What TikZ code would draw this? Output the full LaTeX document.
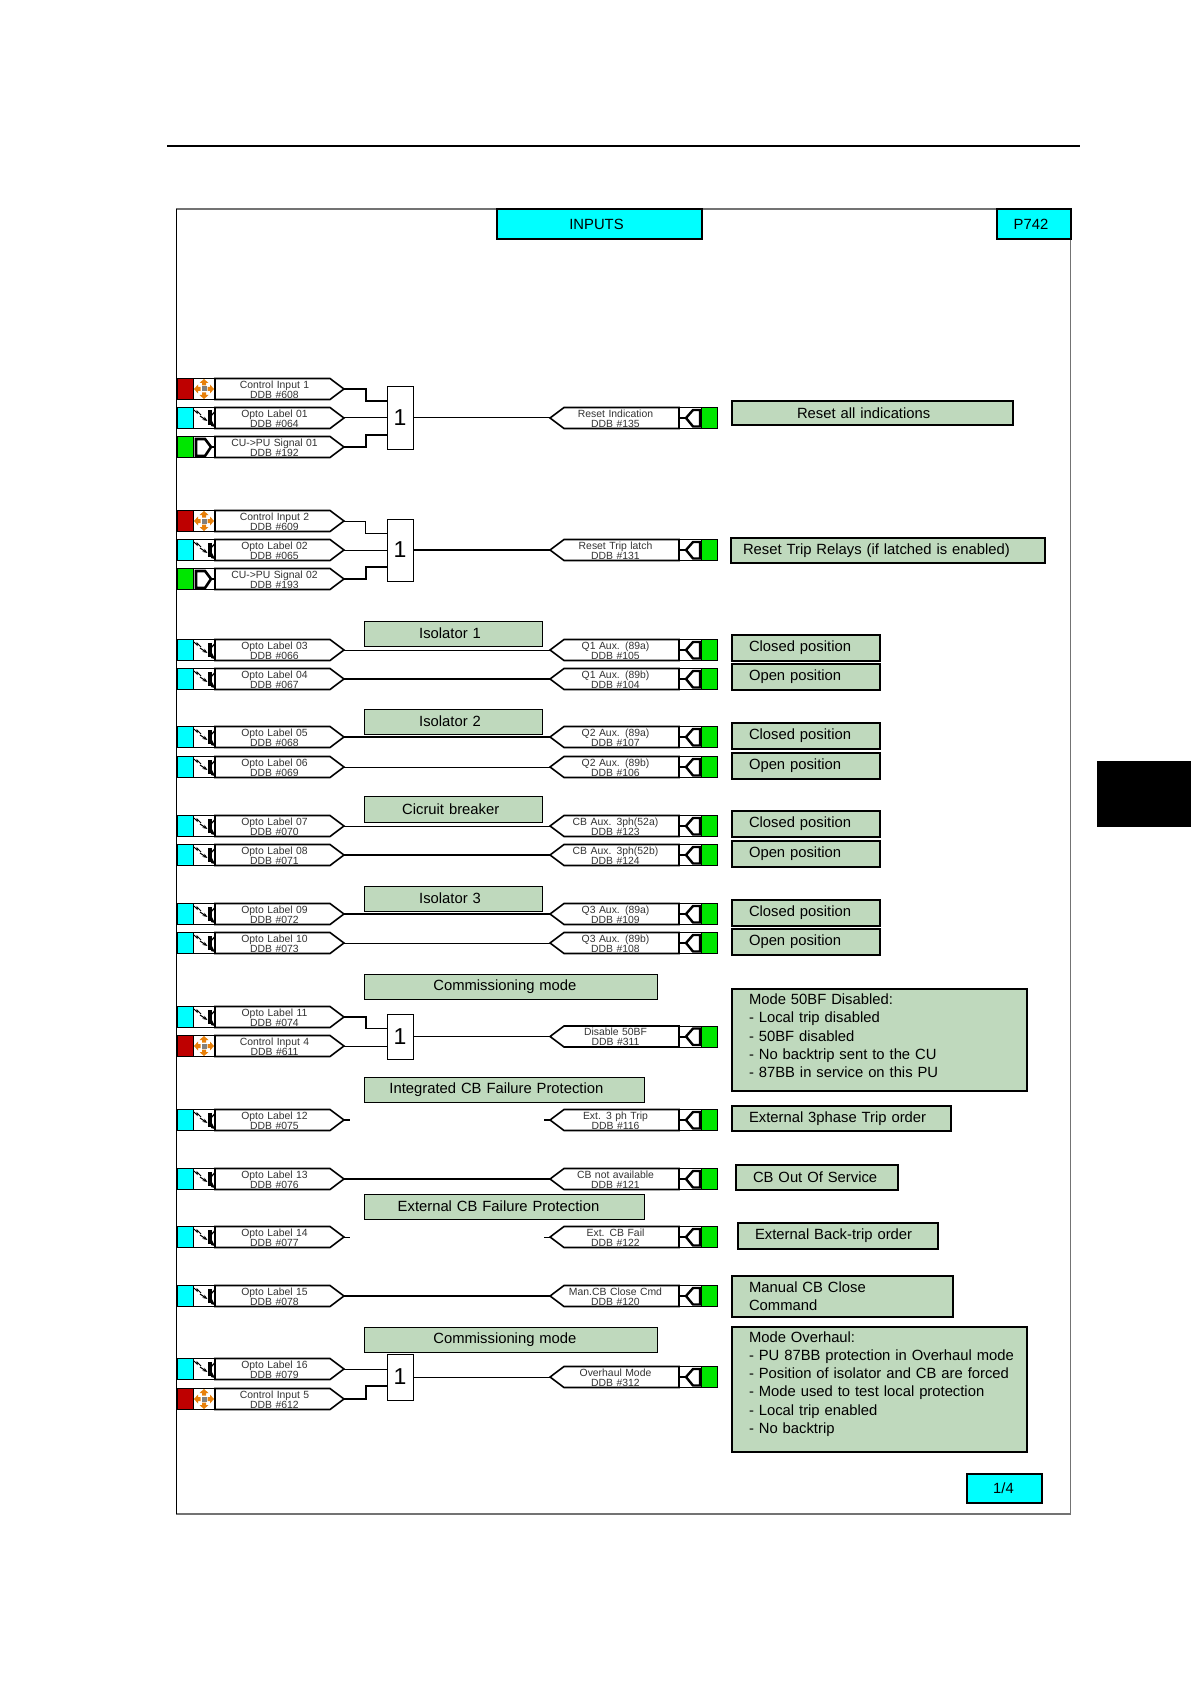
\documentclass[tikz,border=0pt]{standalone}
\usepackage{fontspec}
\setmainfont{Liberation Sans}
\usepackage{xcolor}
\usetikzlibrary{arrows.meta, positioning, shapes.symbols}
\definecolor{sage}{HTML}{BFD9BD}
\definecolor{ctrlred}{HTML}{BE0000}
\definecolor{optocyan}{HTML}{00FFFF}
\definecolor{cugreen}{HTML}{00E600}
\definecolor{iconorange}{HTML}{E8800A}
\tikzset{
	nudge/.style={execute at begin node={\leftskip=0pt plus 1fil\rightskip=#1 plus 1fil\parfillskip=0pt\relax}},
	indent/.style={execute at begin node={\leftskip=#1\rightskip=0pt plus 1fil\relax}},
	indent/.default=8.5pt,
	sq/.style={draw=black, line width=0.4pt, minimum width=8pt, minimum height=10.5pt, inner sep=0pt, outer sep=0pt},
	ctrlsq/.style={sq, fill=ctrlred},
	optosq/.style={sq, fill=optocyan},
	cusq/.style={sq, fill=cugreen},
	iconbox/.style={draw=black, line width=0.4pt, fill=white, minimum width=11pt, minimum height=10.5pt, inner sep=0pt, outer sep=0pt},
	tagshape/.style={shape=signal, draw=black, line width=0.8pt, fill=white, signal pointer angle=74,
		minimum height=10.5pt, text width=57.5pt, inner sep=0pt, outer sep=0pt,
		font=\fontsize{5.2}{5}\selectfont, text=black!80},
	tagin/.style={tagshape, signal to=east, nudge=-2pt},
	tagout/.style={tagshape, signal to=west, nudge=6pt},
	gate/.style={draw=black, line width=0.5pt, fill=white, minimum width=13pt, minimum height=31pt,
		inner sep=0pt, outer sep=0pt, font=\fontsize{11.5}{12}\selectfont},
	groupbox/.style={draw=black, line width=0.5pt, fill=sage, anchor=north west, inner sep=0pt, outer sep=0pt,
		minimum height=12.5pt, font=\fontsize{7.4}{9}\selectfont},
	sidebox/.style={draw=black, line width=0.7pt, fill=sage, anchor=north west, inner sep=0pt, outer sep=0pt,
		minimum height=13pt, font=\fontsize{7.4}{9.15}\selectfont},
	headbox/.style={draw=black, line width=0.7pt, fill=optocyan, anchor=north west, inner sep=0pt, outer sep=0pt,
		font=\fontsize{7.4}{9}\selectfont},
	wire/.style={draw=black, line width=0.5pt},
	wireb/.style={draw=black, line width=0.9pt},
	ctrlicon/.pic={
		\foreach \a in {0,90,180,270}{
			\fill[rotate=\a, iconorange] (10,0) -- (6,-4.5) -- (6,-2) -- (3.5,-2) -- (3.5,2) -- (6,2) -- (6,4.5) -- cycle;
		}
		\fill[black!50] (-2.5,-2.5) rectangle (2.5,2.5);
	},
	optoicon/.pic={
		\draw[line width=0.5pt] (-10,-8) -- (-7,-5) -- (-7,-7) -- (-3,-3);
		\draw[line width=0.5pt, -{Stealth[length=2.5pt]}] (-4,-2) -- (3.5,3);
		\fill[black] (4,-7.5) rectangle (7.5,7);
		\draw[line width=0.6pt] (7,-2) -- (10.5,-6);
		\fill[black] (7,1) -- (11,9) -- (7,8) -- cycle;
	},
	cuicon/.pic={
		\draw[line width=1.3pt, line join=miter] (-8,-8) -- (1,-8) -- (7,0) -- (1,9) -- (-8,9) -- cycle;
		\draw[line width=0.7pt] (7,0) -- (11,0);
	},
	outicon/.pic={
		\draw[line width=1.2pt, line join=miter] (-4,0) -- (3,-8) -- (10,-8) -- (10,8.5) -- (3,8.5) -- cycle;
		\draw[line width=1pt] (-11,0) -- (-4,0);
	},
}
\newcommand{\sigin}[5]{
	\node[#3sq, anchor=west] (#1s) at (177,#2) {};
	\node[iconbox, right=0pt of #1s] (#1i) {};
	\node[tagin, right=0pt of #1i] (#1) {#4\par #5\par\vspace{-0.7pt}};
	\pic at (#1i) {#3icon};
}
\newcommand{\sigout}[4]{
	\node[cusq, anchor=east] (#1s) at (717,#2) {};
	\node[iconbox, left=0pt of #1s] (#1i) {};
	\node[tagout, left=0pt of #1i] (#1) {#3\par #4\par\vspace{-0.7pt}};
	\pic at (#1i) {outicon};
}

\begin{document}
\begin{tikzpicture}[x=0.5pt, y=-0.5pt]
	\useasboundingbox (0,0) rectangle (1191,1684);

	\coordinate (rulea) at (167,146);
	\coordinate (ruleb) at (1080,146);
	\draw[line width=1pt] (rulea) -- (ruleb);
	\node[fill=black, anchor=north west, minimum width=47pt, minimum height=33pt, inner sep=0pt, outer sep=0pt] (tab) at (1097,761) {};

	\node[draw=black!55, line width=0.6pt, anchor=north west, minimum width=447pt, minimum height=652.5pt, inner sep=0pt, outer sep=0pt] (frame) at (176.5,209) {};
	\draw[line width=0.6pt] (frame.north west) -- (frame.south west);

	\node[headbox, text width=102.5pt, minimum height=15pt, nudge=3pt] (inputs) at (497,209) {INPUTS};
	\node[headbox, text width=37pt, minimum height=15pt, nudge=3pt] (model) at (997,209) {P742};
	\node[headbox, text width=37.5pt, minimum height=14.5pt, nudge=1pt] (page) at (967,1474) {1/4};

	\sigin{cia}{389}{ctrl}{Control Input 1}{DDB \#608}
	\sigin{opa}{418}{opto}{Opto Label 01}{DDB \#064}
	\sigin{cua}{447}{cu}{CU->PU Signal 01}{DDB \#192}
	\node[gate] (ga) at (400,418) {1};
	\sigout{rsi}{418}{Reset Indication}{DDB \#135}
	\draw[wireb] (cia.east) -- ++(22,0) |- ([shift={(0,-17)}]ga.west);
	\draw[wire] (opa.east) -- (ga.west);
	\draw[wireb] (cua.east) -- ++(22,0) |- ([shift={(0,17)}]ga.west);
	\draw[wire] (ga.east) -- (rsi.west);

	\sigin{cib}{521}{ctrl}{Control Input 2}{DDB \#609}
	\sigin{opb}{550}{opto}{Opto Label 02}{DDB \#065}
	\sigin{cub}{579}{cu}{CU->PU Signal 02}{DDB \#193}
	\node[gate] (gb) at (400,550) {1};
	\sigout{rst}{550}{Reset Trip latch}{DDB \#131}
	\draw[wire] (cib.east) -- ++(22,0) |- ([shift={(0,-17)}]gb.west);
	\draw[wire] (opb.east) -- (gb.west);
	\draw[wireb] (cub.east) -- ++(22,0) |- ([shift={(0,17)}]gb.west);
	\draw[wireb] (gb.east) -- (rst.west);

	\node[groupbox, text width=89pt, nudge=3pt] (isoa) at (364,621) {Isolator 1};
	\sigin{opc}{650}{opto}{Opto Label 03}{DDB \#066}
	\sigin{opd}{679}{opto}{Opto Label 04}{DDB \#067}
	\sigout{qaa}{650}{Q1 Aux. (89a)}{DDB \#105}
	\sigout{qab}{679}{Q1 Aux. (89b)}{DDB \#104}
	\draw[wire] (opc.east) -- (qaa.west);
	\draw[wireb] (opd.east) -- (qab.west);

	\node[groupbox, text width=89pt, nudge=3pt] (isob) at (364,709) {Isolator 2};
	\sigin{ope}{737}{opto}{Opto Label 05}{DDB \#068}
	\sigin{opf}{767}{opto}{Opto Label 06}{DDB \#069}
	\sigout{qba}{737}{Q2 Aux. (89a)}{DDB \#107}
	\sigout{qbb}{767}{Q2 Aux. (89b)}{DDB \#106}
	\draw[wireb] (ope.east) -- (qba.west);
	\draw[wire] (opf.east) -- (qbb.west);

	\node[groupbox, text width=89pt, nudge=2.3pt, minimum height=13pt] (cbk) at (364,796) {Cicruit breaker};
	\sigin{opg}{826}{opto}{Opto Label 07}{DDB \#070}
	\sigin{oph}{855}{opto}{Opto Label 08}{DDB \#071}
	\sigout{cba}{826}{CB Aux. 3ph(52a)}{DDB \#123}
	\sigout{cbb}{855}{CB Aux. 3ph(52b)}{DDB \#124}
	\draw[wire] (opg.east) -- (cba.west);
	\draw[wireb] (oph.east) -- (cbb.west);

	\node[groupbox, text width=89pt, nudge=3pt] (isoc) at (364,886) {Isolator 3};
	\sigin{opi}{914}{opto}{Opto Label 09}{DDB \#072}
	\sigin{opj}{943}{opto}{Opto Label 10}{DDB \#073}
	\sigout{qca}{914}{Q3 Aux. (89a)}{DDB \#109}
	\sigout{qcb}{943}{Q3 Aux. (89b)}{DDB \#108}
	\draw[wireb] (opi.east) -- (qca.west);
	\draw[wire] (opj.east) -- (qcb.west);

	\node[groupbox, text width=146.5pt, nudge=5.6pt] (coma) at (364,974) {Commissioning mode};
	\sigin{opk}{1017}{opto}{Opto Label 11}{DDB \#074}
	\sigin{cic}{1046}{ctrl}{Control Input 4}{DDB \#611}
	\node[gate, minimum height=22.5pt] (gc) at (400,1036.5) {1};
	\sigout{dis}{1036.5}{Disable 50BF}{DDB \#311}
	\draw[wireb] (opk.east) -- ++(22,0) |- ([shift={(0,-8)}]gc.west);
	\draw[wire] (cic.east) -- (cic.east -| gc.west);
	\draw[wire] (gc.east) -- (dis.west);

	\node[groupbox, text width=140pt, nudge=7.6pt] (intg) at (364,1077) {Integrated CB Failure Protection};
	\sigin{opl}{1120}{opto}{Opto Label 12}{DDB \#075}
	\sigout{trp}{1120}{Ext. 3 ph Trip}{DDB \#116}
	\coordinate[right=3pt of opl.east] (oplend);
	\coordinate[left=3pt of trp.west] (trpend);
	\draw[wireb] (opl.east) -- (oplend);
	\draw[wireb] (trp.west) -- (trpend);

	\sigin{opm}{1179}{opto}{Opto Label 13}{DDB \#076}
	\sigout{nav}{1179}{CB not available}{DDB \#121}
	\draw[wireb] (opm.east) -- (nav.west);

	\node[groupbox, text width=140pt, nudge=5.5pt] (extg) at (364,1194) {External CB Failure Protection};
	\sigin{opn}{1237}{opto}{Opto Label 14}{DDB \#077}
	\sigout{fal}{1237}{Ext. CB Fail}{DDB \#122}
	\coordinate[right=3pt of opn.east] (opnend);
	\coordinate[left=3pt of fal.west] (falend);
	\draw[wire] (opn.east) -- (opnend);
	\draw[wire] (fal.west) -- (falend);

	\sigin{opo}{1296}{opto}{Opto Label 15}{DDB \#078}
	\sigout{cls}{1296}{Man.CB Close Cmd}{DDB \#120}
	\draw[wireb] (opo.east) -- (cls.west);

	\node[groupbox, text width=146.5pt, nudge=5.6pt] (comb) at (364,1327) {Commissioning mode};
	\sigin{opp}{1369}{opto}{Opto Label 16}{DDB \#079}
	\sigin{cid}{1399}{ctrl}{Control Input 5}{DDB \#612}
	\node[gate, minimum height=23pt] (gd) at (400,1377) {1};
	\sigout{ovh}{1377}{Overhaul Mode}{DDB \#312}
	\draw[wire] (opp.east) -- (opp.east -| gd.west);
	\draw[wireb] (cid.east) -- ++(22,0) |- ([shift={(0,9)}]gd.west);
	\draw[wire] (gd.east) -- (ovh.west);

	\node[sidebox, text width=140.5pt, minimum height=12pt, indent=32.5pt] (rsib) at (732,401) {Reset all indications};
	\node[sidebox, text width=157pt, minimum height=12.5pt, indent=6pt] (rstb) at (731,538) {Reset Trip Relays (if latched is enabled)};
	\node[sidebox, text width=74pt, indent] (cla) at (732,635) {Closed position};
	\node[sidebox, text width=74pt, indent] (opna) at (732,664) {Open position};
	\node[sidebox, text width=74pt, indent] (clb) at (732,723) {Closed position};
	\node[sidebox, text width=74pt, indent] (opnb) at (732,753) {Open position};
	\node[sidebox, text width=74pt, indent] (clc) at (732,811) {Closed position};
	\node[sidebox, text width=74pt, indent] (opnc) at (732,841) {Open position};
	\node[sidebox, text width=74pt, indent] (cld) at (732,900) {Closed position};
	\node[sidebox, text width=74pt, indent] (opnd) at (732,929) {Open position};
	\node[sidebox, text width=147.5pt, minimum height=51pt, indent, text depth=40.9pt] (modea) at (732,989)
	{Mode 50BF Disabled:\\- Local trip disabled\\- 50BF disabled\\- No backtrip sent to the CU\\- 87BB in service on this PU};
	\node[sidebox, text width=109.5pt, minimum height=12.5pt, indent] (ext) at (732,1106) {External 3phase Trip order};
	\node[sidebox, text width=81pt, minimum height=12.5pt, indent] (oos) at (736,1165) {CB Out Of Service};
	\node[sidebox, text width=100pt, minimum height=13pt, indent] (bkt) at (738,1223) {External Back-trip order};
	\node[sidebox, text width=110.5pt, minimum height=20.5pt, indent] (man) at (732,1276) {Manual CB Close\\Command};
	\node[sidebox, text width=147.5pt, minimum height=62.5pt, indent, text depth=52.8pt] (modeb) at (732,1327)
	{Mode Overhaul:\\- PU 87BB protection in Overhaul mode\\- Position of isolator and CB are forced\\- Mode used to test local protection\\- Local trip enabled\\- No backtrip};
\end{tikzpicture}
\end{document}
